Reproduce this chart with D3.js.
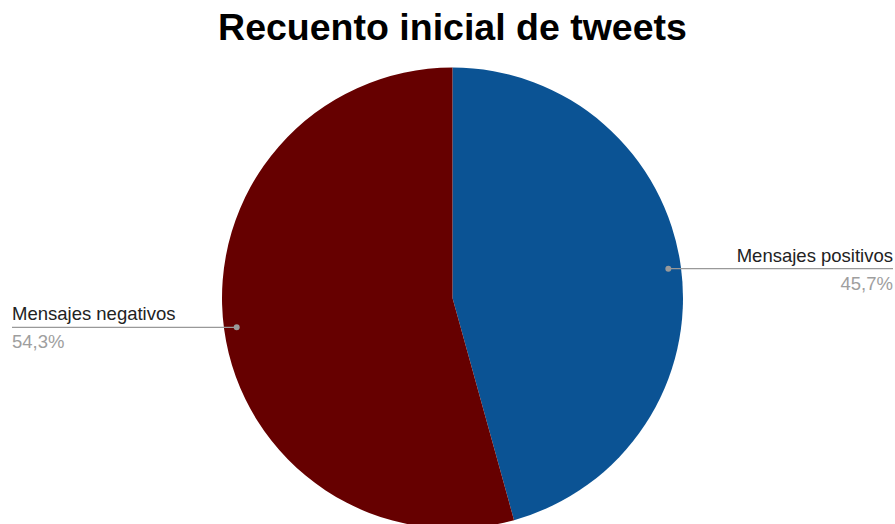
<!DOCTYPE html>
<html><head><meta charset="utf-8">
<script src="https://cdn.jsdelivr.net/npm/d3@7"></script>
<style>body{margin:0;background:#fff}svg{display:block}</style>
</head><body>
<svg id="c" width="895" height="524"></svg>
<script>
const title = "Recuento inicial de tweets";
const categories = ["Mensajes positivos", "Mensajes negativos"];
const values = [45.7, 54.3];
const pctLabels = ["45,7%", "54,3%"];
const colors = ["#0b5394", "#660000"];

const svg = d3.select("#c");
const W = 895, cx = 452.5, cy = 298, r = 230.5;

svg.append("text").attr("x", cx).attr("y", 40).attr("text-anchor", "middle")
  .attr("font-family", "Liberation Sans, Arial, sans-serif").attr("font-weight", "bold")
  .attr("font-size", 37.5).attr("fill", "#000").text(title);

const pie = d3.pie().sort(null).value(d => d)(values);
const arc = d3.arc().innerRadius(0).outerRadius(r);
const g = svg.append("g").attr("transform", `translate(${cx},${cy})`);
g.selectAll("path").data(pie).join("path").attr("d", arc).attr("fill", (d, i) => colors[i]);

const inner = d3.arc().innerRadius(r * 0.945).outerRadius(r * 0.945);
pie.forEach((d, i) => {
  const [px, py] = inner.centroid(d);
  const dx = cx + px, dy = cy + py;
  const right = px > 0;
  const x2 = right ? W - 2 : 12;
  svg.append("line").attr("x1", dx).attr("y1", dy).attr("x2", x2).attr("y2", dy)
    .attr("stroke", "#999").attr("stroke-width", 1.3);
  svg.append("circle").attr("cx", dx).attr("cy", dy).attr("r", 3).attr("fill", "#999");
  const anchor = right ? "end" : "start";
  svg.append("text").attr("x", x2).attr("y", dy - 7).attr("text-anchor", anchor)
    .attr("font-family", "Liberation Sans, Arial, sans-serif").attr("font-size", 18.5)
    .attr("fill", "#222").text(categories[i]);
  svg.append("text").attr("x", x2).attr("y", dy + 21).attr("text-anchor", anchor)
    .attr("font-family", "Liberation Sans, Arial, sans-serif").attr("font-size", 18.5)
    .attr("fill", "#9e9e9e").text(pctLabels[i]);
});
</script>
</body></html>
